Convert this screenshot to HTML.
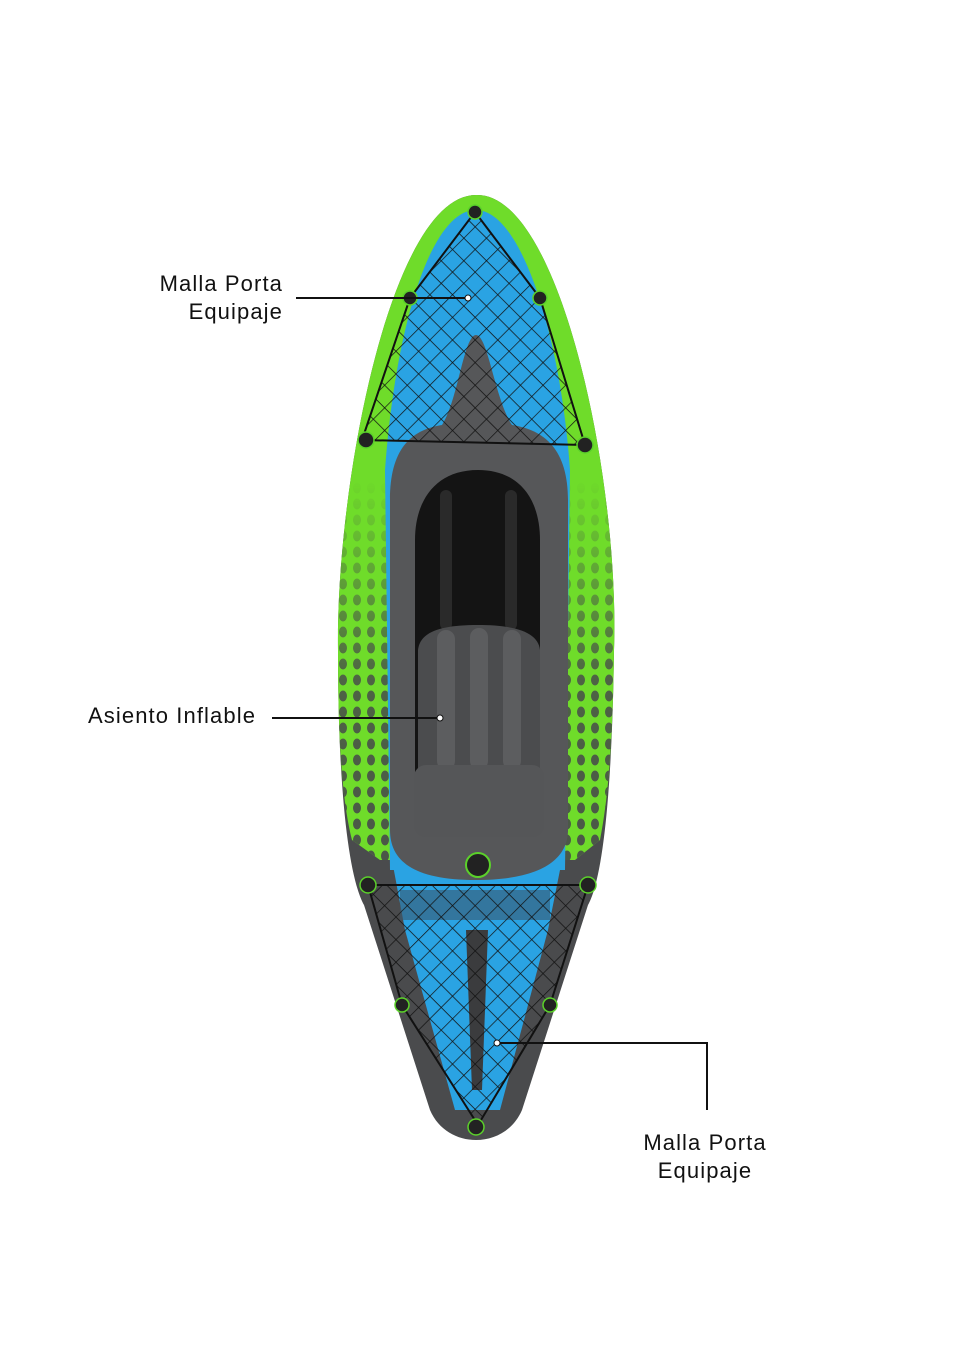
<!DOCTYPE html>
<html><head><meta charset="utf-8"><style>
html,body{margin:0;padding:0;background:#fff;}
body{width:980px;height:1359px;position:relative;overflow:hidden;font-family:"Liberation Sans",sans-serif;}
.t{position:absolute;font-size:22px;color:#111;line-height:28px;letter-spacing:1.1px;}
</style></head><body>
<svg width="980" height="1359" style="position:absolute;left:0;top:0">
<defs>
<pattern id="dots" width="14" height="16" patternUnits="userSpaceOnUse">
<ellipse cx="7" cy="8" rx="4" ry="5.5" fill="#4a5548"/>
</pattern>
<pattern id="net" width="16" height="16" patternUnits="userSpaceOnUse" patternTransform="rotate(45)">
<path d="M0 0H16M0 0V16" stroke="#111" stroke-width="1.4" fill="none"/>
</pattern>
<linearGradient id="fade" x1="0" y1="0" x2="0" y2="1">
<stop offset="0" stop-color="#fff" stop-opacity="0"/>
<stop offset="0.5" stop-color="#fff" stop-opacity="0.9"/>
<stop offset="1" stop-color="#fff" stop-opacity="1"/>
</linearGradient>
<mask id="dm"><rect x="0" y="480" width="980" height="400" fill="url(#fade)"/></mask>
<clipPath id="hc"><path d="M476 195 C560 192 620 480 614 650 C613 740 608 800 600 840 L575 860 L380 860 L352 840 C342 800 338 740 338 650 C336 480 392 195 476 195Z"/></clipPath>
</defs>
<path d="M476 195 C560 192 620 480 614 650 C612 800 602 880 588 905 L522 1110 C505 1150 447 1150 430 1110 L364 905 C350 880 338 800 338 650 C336 480 392 195 476 195Z" fill="#4a4b4d"/>
<path d="M476 195 C560 192 620 480 614 650 C613 740 608 800 600 840 L575 860 L380 860 L352 840 C342 800 338 740 338 650 C336 480 392 195 476 195Z" fill="#6fdc2a"/>
<g clip-path="url(#hc)" mask="url(#dm)">
<rect x="336" y="480" width="62" height="380" fill="url(#dots)"/>
<rect x="560" y="480" width="60" height="380" fill="url(#dots)"/>
</g>
<path d="M476 210 C520 210 560 330 570 470 L565 870 L390 870 L385 470 C395 330 430 210 476 210Z" fill="#2aa3e3"/>
<path d="M392 860 L562 860 L548 930 L500 1110 L455 1110 L405 930Z" fill="#2aa3e3"/>
<path d="M466 930 L488 930 L482 1090 L472 1090Z" fill="#3b3c3e"/>
<rect x="400" y="890" width="150" height="30" fill="#3a5870" opacity="0.6"/>
<path d="M476 335 C488 335 495 400 512 425 C545 430 568 450 568 500 L568 830 C568 860 540 880 476 880 C412 880 390 860 390 830 L390 500 C390 450 410 430 442 425 C458 400 464 335 476 335Z" fill="#565759"/>
<path d="M478 470 C520 470 540 500 540 540 L540 830 L415 830 L415 540 C415 500 436 470 478 470Z" fill="#141414"/>
<rect x="440" y="490" width="12" height="140" rx="6" fill="#2a2a2a"/>
<rect x="505" y="490" width="12" height="140" rx="6" fill="#2a2a2a"/>
<path d="M418 650 C420 632 440 625 478 625 C515 625 538 632 540 650 L540 770 L418 770Z" fill="#4b4c4e"/>
<rect x="437" y="630" width="18" height="140" rx="9" fill="#5c5d5f"/>
<rect x="470" y="628" width="18" height="142" rx="9" fill="#5c5d5f"/>
<rect x="503" y="630" width="18" height="140" rx="9" fill="#5c5d5f"/>
<rect x="414" y="765" width="130" height="72" rx="12" fill="#555658"/>
<circle cx="478" cy="865" r="12" fill="#222" stroke="#5bd12a" stroke-width="2"/>
<path d="M475 212 L540 298 L585 445 L362 440 L410 298Z" fill="url(#net)"/>
<path d="M475 212 L540 298 L585 445 L362 440 L410 298Z" fill="none" stroke="#111" stroke-width="2"/>
<path d="M368 885 L588 885 L550 1005 L478 1125 L402 1005Z" fill="url(#net)"/>
<path d="M368 885 L588 885 L550 1005 L478 1125 L402 1005Z" fill="none" stroke="#111" stroke-width="2"/>
<g fill="#222" stroke="#5bd12a" stroke-width="1.5">
<circle cx="475" cy="212" r="7"/><circle cx="540" cy="298" r="7"/><circle cx="410" cy="298" r="7"/>
<circle cx="585" cy="445" r="8"/><circle cx="366" cy="440" r="8"/>
<circle cx="368" cy="885" r="8"/><circle cx="588" cy="885" r="8"/>
<circle cx="402" cy="1005" r="7"/><circle cx="550" cy="1005" r="7"/><circle cx="476" cy="1127" r="8"/>
</g>
<g stroke="#111" stroke-width="2" fill="none">
<path d="M296 298 H468"/>
<path d="M272 718 H440"/>
<path d="M497 1043 H707 V1110"/>
</g>
<g fill="#fff" stroke="#111" stroke-width="1">
<circle cx="468" cy="298" r="3"/><circle cx="440" cy="718" r="3"/><circle cx="497" cy="1043" r="3"/>
</g>
</svg>
<div class="t" style="right:697px;top:270px;text-align:right">Malla Porta<br>Equipaje</div>
<div class="t" style="left:88px;top:702px">Asiento Inflable</div>
<div class="t" style="left:605px;width:200px;top:1129px;text-align:center">Malla Porta<br>Equipaje</div>
</body></html>
